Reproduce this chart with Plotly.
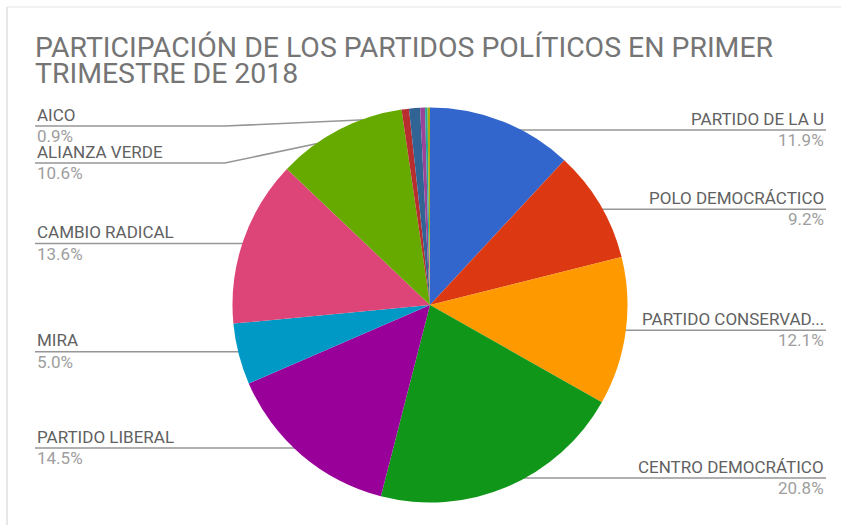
import math
import plotly.graph_objects as go

# ---------------- data ----------------
partidos = [
    "PARTIDO DE LA U", "POLO DEMOCRÁCTICO", "PARTIDO CONSERVADOR",
    "CENTRO DEMOCRÁTICO", "PARTIDO LIBERAL", "MIRA", "CAMBIO RADICAL",
    "ALIANZA VERDE", "OTRO 1", "AICO", "OTRO 2", "OTRO 3", "OTRO 4",
]
participacion = [11.9, 9.2, 12.1, 20.8, 14.5, 5.0, 13.6, 10.6, 0.6, 0.9, 0.4, 0.2, 0.2]
colores = [
    "#3366cc", "#dc3912", "#ff9900", "#109618", "#990099", "#0099c6",
    "#dd4477", "#66aa00", "#b82e2e", "#316395", "#994499", "#22aa99", "#aaaa11",
]
titulo = ["PARTICIPACIÓN DE LOS PARTIDOS POLÍTICOS EN PRIMER", "TRIMESTRE DE 2018"]

# ---------------- layout constants (pixels) ----------------
W, H = 841, 525
CX, CY, R = 430, 305, 197.5
ANCHOR_F = 0.952
LEFT_X, RIGHT_X = 35, 826
BEND_LEN = 190
MIN_LINE_Y = 126
GAP = 37
MIN_LABEL_VALUE = 0.75
MAX_CHARS = 18

total = sum(participacion)

fig = go.Figure()
fig.add_trace(go.Pie(
    labels=partidos, values=participacion, sort=False, direction="clockwise",
    rotation=0, textinfo="none", hoverinfo="label+percent",
    marker=dict(colors=colores, line=dict(width=0)),
    domain=dict(x=[(CX - R) / W, (CX + R) / W], y=[1 - (CY + R) / H, 1 - (CY - R) / H]),
    showlegend=False,
))

# compute anchors
labels = []
cum = 0.0
for name, v in zip(partidos, participacion):
    theta = 2 * math.pi * (cum + v / 2) / total
    cum += v
    if v < MIN_LABEL_VALUE:
        continue
    ax = CX + ANCHOR_F * R * math.sin(theta)
    ay = CY - ANCHOR_F * R * math.cos(theta)
    labels.append(dict(name=name, v=v, ax=ax, ay=ay, side="right" if ax > CX else "left"))

for side in ("left", "right"):
    grp = sorted([l for l in labels if l["side"] == side], key=lambda l: l["ay"])
    prev = -1e9
    for l in grp:
        y = max(l["ay"], MIN_LINE_Y, prev + GAP)
        l["ly"] = y
        prev = y

annotations = []
for l in labels:
    if l["side"] == "left":
        end_x, bend_x, xa = LEFT_X, LEFT_X + BEND_LEN, "left"
    else:
        end_x, bend_x, xa = RIGHT_X, RIGHT_X - BEND_LEN, "right"
    if abs(l["ly"] - l["ay"]) < 1.5:
        xs, ys = [l["ax"], end_x], [l["ay"], l["ay"]]
    else:
        xs, ys = [l["ax"], bend_x, end_x], [l["ay"], l["ly"], l["ly"]]
    fig.add_trace(go.Scatter(x=xs, y=ys, mode="lines", line=dict(color="#969696", width=1.6),
                             hoverinfo="skip", showlegend=False, xaxis="x", yaxis="y"))
    fig.add_trace(go.Scatter(x=[l["ax"]], y=[l["ay"]], mode="markers",
                             marker=dict(color="#a8a8a8", size=6),
                             hoverinfo="skip", showlegend=False, xaxis="x", yaxis="y"))
    name = l["name"]
    if len(name) > MAX_CHARS:
        name = name[:MAX_CHARS - 1] + "..."
    annotations.append(dict(x=end_x, y=l["ly"] - 11.3, xref="x", yref="y", text=name,
                            showarrow=False, xanchor=xa, yanchor="middle",
                            font=dict(family="Roboto", size=17, color="#616161")))
    annotations.append(dict(x=end_x, y=l["ly"] + 10, xref="x", yref="y",
                            text=f"{100 * l['v'] / total:.1f}%",
                            showarrow=False, xanchor=xa, yanchor="middle",
                            font=dict(family="Roboto", size=17, color="#9e9e9e")))

for i, t in enumerate(titulo):
    annotations.append(dict(x=LEFT_X - 2, y=47.5 + 26 * i, xref="x", yref="y", text=t,
                            showarrow=False, xanchor="left", yanchor="middle",
                            font=dict(family="Roboto", size=28.4, color="#757575")))

fig.update_layout(
    width=W, height=H, margin=dict(l=0, r=0, t=0, b=0),
    paper_bgcolor="white", plot_bgcolor="rgba(0,0,0,0)",
    xaxis=dict(range=[0, W], visible=False, fixedrange=True),
    yaxis=dict(range=[H, 0], visible=False, fixedrange=True),
    annotations=annotations,
    shapes=[
        dict(type="line", xref="x", yref="y", x0=7, x1=7, y0=7, y1=H, line=dict(color="#d0d0d0", width=1)),
        dict(type="line", xref="x", yref="y", x0=7, x1=W, y0=7, y1=7, line=dict(color="#e4e4e4", width=1)),
    ],
)

fig.write_html("out.html", config={"displayModeBar": False},
               post_script="document.body.style.margin='0';document.body.style.overflow='hidden';")
